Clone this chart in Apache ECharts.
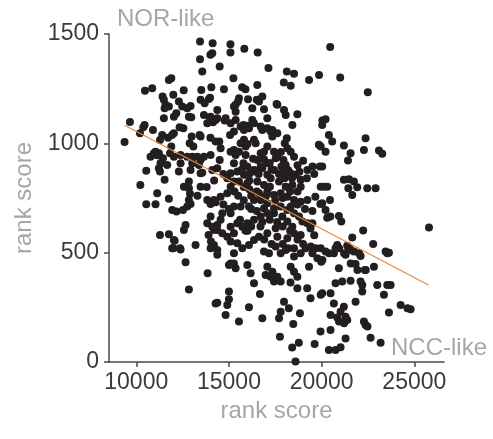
<!DOCTYPE html>
<html>
<head>
<meta charset="utf-8">
<script src="https://cdn.jsdelivr.net/npm/echarts@6/dist/echarts.min.js"></script>
<style>html,body{margin:0;padding:0;background:#fff}#c{width:493px;height:439px}</style>
</head>
<body>
<div id="c"></div>
<script>
// x tick labels and y tick labels
const xTicks = [10000, 15000, 20000, 25000];
const yTicks = [0, 500, 1000, 1500];
const axisTitleX = 'rank score';
const axisTitleY = 'rank score';
const topLabel = 'NOR-like';
const bottomLabel = 'NCC-like';

// regression line end points [x, y]
const fitLine = [[9370, 1083], [25760, 352]];

// scatter points [x rank score, y rank score]
const points = [
[13440,1466],[14120,1458],[15080,1453],[15830,1432],[16550,1415],[20460,1440],
[13440,1385],[14000,1405],[15080,1415],[14100,1412],
[13560,1328],[14500,1351],[17130,1344],[18120,1328],[18510,1318],[19860,1313],[21000,1301],[19320,1290],
[11760,1290],[11890,1298],[15240,1298],[17960,1278],[18330,1263],[16530,1267],
[10470,1240],[10860,1252],[12560,1243],[13510,1244],[14050,1257],[14730,1247],[15710,1257],[15890,1247],[22490,1234],
[11420,1214],[12000,1222],[13980,1209],[15540,1206],[16030,1202],[16500,1199],[16800,1214],
[11490,1199],[11580,1176],[11530,1160],[11760,1168],[12300,1191],[12480,1168],[12750,1160],[12930,1171],[13470,1199],[13690,1183],[14370,1153],[15270,1168],[15490,1191],[15360,1145],[16260,1160],[16620,1191],[16890,1156],[17610,1176],[17970,1153],[18060,1130],[18690,1133],[17570,1180],[15360,1176],[13920,1203],
[11490,1115],[12030,1122],[12160,1138],[12840,1122],[12970,1119],[13650,1130],[13980,1115],[14280,1107],[14770,1104],[15090,1092],[15360,1107],[15780,1084],[15990,1080],[16350,1092],[16710,1077],[17070,1069],[18420,1084],[20040,1104],[20210,1110],[20030,1084],[9660,1098],[10450,1084],[10380,1074],[10900,1061],[12340,1074],[12540,1069],[13830,1092],[14140,1096],[14370,1115],[14820,1115],[14010,1122],[15630,1077],[15810,1061],[16080,1069],[16800,1069],[17340,1061],[17610,1046],[16260,1107],[17070,1115],
[10200,1046],[9370,1006],[11400,1038],[11930,1038],[11890,985],[12990,1031],[13470,1031],[14000,1026],[14280,1008],[14480,1008],[15060,1038],[15270,1054],[15810,1016],[15630,1000],[16800,1061],[17250,1054],[17340,1031],[18120,1023],[18010,1000],[16000,997],[16440,1000],[17070,985],[18150,978],[19950,985],[20390,1038],[20570,1008],[21200,990],[22370,1023],[22280,970],[23090,967],[23270,952],[20210,962],[12030,1046],[11710,1025],[11280,1015],[16350,1016],[19850,993],[13420,1038],[12880,1000],[13080,985],[14550,978],[15270,970],[15540,962],[15900,985],[16710,955],[16890,962],[17430,962],[21560,955],[18330,962],[15090,962],[11040,962],[11220,955],[10950,955],
[21420,921],[18510,939],[17940,924],[17610,939],[16890,927],[16530,924],[15900,947],[15360,947],[14500,924],[14010,947],[13470,924],[13290,939],[13020,939],[12750,939],[12390,947],[12030,939],[11820,955],[11130,945],[10770,939],[11440,932],[11310,909],[11670,901],[12390,909],[15270,909],[15780,909],[15990,894],[19510,894],[19900,894],[20030,894],[11220,886],[10540,875],[12300,871],[12930,878],[13560,866],[14370,886],[16350,878],[16800,886],[17070,856],[18330,863],[18600,856],[19230,878],[13650,939],[13380,901],[17520,932],[17830,894],[18060,901],[18190,878],[17970,863],[17430,878],[17070,909],[16710,894],[16440,871],[16130,863],[15810,856],[15450,871],[15090,863],[11280,871],[13020,909],[13470,863],[14100,878],[18870,833],
[21200,833],[21470,836],[21740,825],[21920,799],[21440,795],[21650,764],[22460,795],[22910,795],[11530,833],[12840,825],[12840,795],[13470,802],[10220,810],[14910,840],[15270,825],[15540,825],[15990,817],[16530,825],[16890,810],[17210,802],[17700,825],[18060,802],[18420,810],[18870,802],[19950,802],[20120,802],[20300,802],[12570,802],[11130,772],[14910,772],[16620,772],[17070,779],[17430,764],[17790,772],[18150,756],[19660,756],[14550,756],[15090,802],[17250,840],[16100,790],[18700,780],
[11760,746],[10540,721],[11040,721],[11940,695],[12170,688],[12520,695],[12840,741],[12930,723],[12750,711],[13830,741],[14010,723],[14280,730],[14190,741],[16350,741],[16080,711],[15630,711],[15270,711],[15090,680],[14640,680],[14550,650],[14010,665],[16710,741],[17070,726],[17430,680],[16890,703],[17880,665],[18150,642],[18510,741],[18870,733],[19230,741],[19930,723],[20450,741],[20030,726],[20210,695],[20300,660],[20930,668],[21060,642],[16350,650],[16710,665],[17070,680],[17430,703],[17790,711],[18150,695],[18330,711],[18510,680],[18780,665],[18960,642],[19230,634],[19500,634],[15450,634],[15720,619],[15990,634],[20470,665],
[13830,634],[14100,619],[14370,604],[14640,589],[14910,573],[15270,589],[15090,619],[18420,619],[11280,581],[12030,558],[12570,604],[12660,627],[11760,584],[12070,554],[13900,581],[14030,551],[14190,604],[14370,627],[15090,551],[15450,543],[16350,558],[16620,573],[17070,589],[17520,612],[17610,573],[18150,566],[18510,589],[18870,581],[22240,601],[21650,569],[25790,615],[22780,540],[13200,535],[14190,535],[15720,520],[16080,535],[17520,528],[16000,600],[16700,620],[19600,580],[19400,610],
[11940,520],[12390,515],[12000,520],[12360,520],[14010,520],[14370,512],[14370,490],[12660,456],[16890,505],[17160,497],[17790,497],[18060,512],[18510,520],[18510,482],[18870,497],[19140,520],[19410,528],[19680,520],[19950,520],[19500,497],[19770,474],[20040,467],[20400,497],[20840,535],[20750,520],[20940,520],[21380,532],[21560,512],[21210,497],[21480,520],[22020,497],[23450,505],[23630,500],[15270,497],[15090,451],[15270,451],[15000,444],[15990,444],[20210,505],[20660,497],[21290,490],[21740,505],[22100,485],[23540,497],[19980,459],[21830,448],
[13850,406],[15360,429],[16170,406],[16350,360],[17070,436],[17340,413],[17610,390],[16980,398],[17250,390],[17430,368],[17790,368],[18330,436],[18510,413],[18690,390],[18320,363],[19320,436],[20930,429],[21570,451],[22330,421],[22820,436],[20750,360],[21110,368],[21560,372],[22100,368],[22190,352],[23000,352],[23540,352],[23720,352],[21930,421],[22380,421],
[18690,337],[19220,337],[19400,291],[19950,307],[20030,314],[20480,314],[20660,268],[21830,276],[22190,322],[23360,307],[21200,253],[21020,230],[20480,215],[20840,204],[21380,192],[21290,207],[20940,185],[21210,177],[22280,185],[22370,169],[22640,111],[23180,88],[23630,226],[24260,261],[24630,246],[24800,241],[19940,139],[20480,146],[21290,108],[20390,55],[20750,55],[21020,67],[19620,82],[18410,66],[18770,88],[18590,2],[18470,174],[17750,116],[17700,200],[17790,230],[17970,276],[18230,246],[18830,223],[16800,200],[16080,250],[16670,311],[15540,185],[14820,215],[14370,271],[15000,322],[15000,287],[14910,261],[12840,332],[14280,268],[22470,162],
[15500,760],[15800,740],[16200,700],[16500,690],[16800,640],[17200,650],[17600,640],[17900,620],[18300,600],[18700,560],[19000,540],[15600,650],[15900,600],[16200,620],[16900,560],[17300,540],[17900,540],[18200,520],[16500,780],[17000,760],[17500,740],[17900,750],[18300,780],[18700,720],[19100,700],[19500,690],[15300,780],[15800,800],[16200,760],[14700,720],[15000,700],[16600,860],[17300,880],[17700,860],[18000,840],[18400,840],[18800,870],[19200,840],[19600,860],[16300,930],[17200,910],[17800,960],[18700,900],[19000,920],[14700,860],[14200,830],[13800,800],[13300,760],[12900,770],[15700,880],[16100,830]
];

const FONT = '"Liberation Sans", Arial, Helvetica, sans-serif';
const chart = echarts.init(document.getElementById('c'), null, {renderer: 'canvas'});
chart.setOption({
  animation: false,
  backgroundColor: '#ffffff',
  grid: {left: 109, right: 49, top: 34, bottom: 77},
  xAxis: {
    type: 'value', min: 8530, max: 26600,
    name: axisTitleX, nameLocation: 'middle', nameGap: 37,
    nameTextStyle: {color: '#a3a7ab', fontSize: 24, fontFamily: FONT},
    axisLine: {show: true, lineStyle: {color: '#4a4a4a', width: 1.5}},
    axisTick: {show: true, customValues: xTicks, length: 5, lineStyle: {color: '#4a4a4a', width: 1.5}},
    axisLabel: {customValues: xTicks, formatter: v => String(v), color: '#3a3a3a', fontSize: 23, fontFamily: FONT, margin: 9},
    splitLine: {show: false}
  },
  yAxis: {
    type: 'value', min: 0, max: 1500,
    name: axisTitleY, nameLocation: 'middle', nameGap: 73, nameRotate: 90,
    nameTextStyle: {color: '#a3a7ab', fontSize: 24, fontFamily: FONT},
    axisLine: {show: true, lineStyle: {color: '#4a4a4a', width: 1.5}},
    axisTick: {show: true, customValues: yTicks, length: 5, lineStyle: {color: '#4a4a4a', width: 1.5}},
    axisLabel: {customValues: yTicks, formatter: v => String(v), color: '#3a3a3a', fontSize: 23, fontFamily: FONT, margin: 10},
    splitLine: {show: false}
  },
  graphic: [
    {type: 'text', left: 117, top: 7, style: {text: topLabel, fill: '#a3a7ab', font: '24px ' + FONT}},
    {type: 'text', left: 391, top: 336, style: {text: bottomLabel, fill: '#a3a7ab', font: '24px ' + FONT}}
  ],
  series: [
    {type: 'scatter', data: points, symbolSize: 8, itemStyle: {color: '#231f20', opacity: 1}, z: 2},
    {type: 'line', data: fitLine, showSymbol: false, lineStyle: {color: '#e8883a', width: 1.2}, z: 3, silent: true}
  ]
});
</script>
</body>
</html>
